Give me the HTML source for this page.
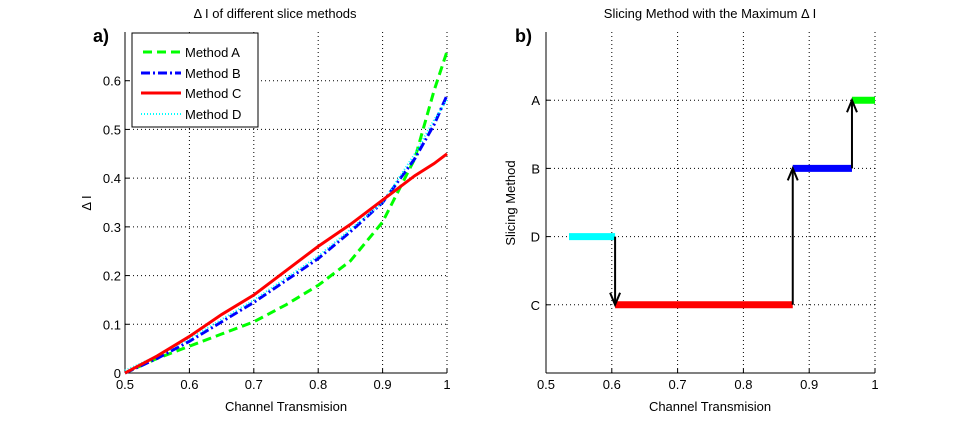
<!DOCTYPE html>
<html><head><meta charset="utf-8"><style>
body{margin:0;background:#fff;}
svg text{font-family:"Liberation Sans",sans-serif;}
</style></head><body>
<svg id="fig" width="963" height="420" viewBox="0 0 963 420" xmlns="http://www.w3.org/2000/svg"></svg>
<script>
const xs = [0.5,0.55,0.6,0.65,0.7,0.75,0.8,0.85,0.9,0.95,0.98,1.0];
const seriesA = [0,0.03,0.055,0.08,0.105,0.14,0.18,0.23,0.31,0.44,0.58,0.66];
const seriesB = [0,0.03,0.065,0.105,0.145,0.19,0.235,0.29,0.35,0.44,0.51,0.57];
const seriesC = [0,0.035,0.075,0.12,0.16,0.21,0.26,0.305,0.355,0.405,0.43,0.45];
const seriesD = [0.005,0.035,0.07,0.11,0.15,0.195,0.24,0.295,0.35,0.45,0.52,0.56];
const xTicks = [0.5,0.6,0.7,0.8,0.9,1];
const xTickLabels = ["0.5","0.6","0.7","0.8","0.9","1"];
const yTicksA = [0,0.1,0.2,0.3,0.4,0.5,0.6];
const yTickLabelsA = ["0","0.1","0.2","0.3","0.4","0.5","0.6"];
const catLabels = ["C","D","B","A"];
const catValues = [1,2,3,4];
const segStart = [0.535,0.605,0.875,0.965];
const segEnd = [0.605,0.875,0.965,1.0];
const segCat = [2,1,3,4];
const segColor = ["#00ffff","#ff0000","#0000ff","#00ff00"];

const NS="http://www.w3.org/2000/svg";
const svg=document.getElementById('fig');
function mk(tag,attrs,parent){const e=document.createElementNS(NS,tag);for(const k in attrs)e.setAttribute(k,attrs[k]);(parent||svg).appendChild(e);return e;}

// panel a scales
const ax={x0:125,x1:447,y0:373,yTop:32};
const xa=v=>ax.x0+(v-0.5)/0.5*(ax.x1-ax.x0);
const ya=v=>ax.y0-v/0.7*(ax.y0-ax.yTop);
// panel b scales
const bx={x0:546,x1:875,y0:373,yTop:32};
const xb=v=>bx.x0+(v-0.5)/0.5*(bx.x1-bx.x0);
const yb=v=>bx.y0-v/5*(bx.y0-bx.yTop);

// ---- panel a ----
const ga=mk('g',{});


xTicks.forEach((t,i)=>{
  if(i>0){const l=mk('line',{x1:xa(t),x2:xa(t),y1:ax.y0,y2:ax.yTop,stroke:'#000','stroke-dasharray':'1,3','stroke-width':1},ga);
  }
  mk('line',{x1:xa(t),x2:xa(t),y1:ax.y0,y2:ax.y0-4,stroke:'#000'},ga);
  const tx=mk('text',{x:xa(t),y:ax.y0+16,'font-size':13,'text-anchor':'middle'},ga);tx.textContent=xTickLabels[i];
  
});
yTicksA.forEach((t,i)=>{
  if(i>0){const l=mk('line',{x1:ax.x0,x2:ax.x1,y1:ya(t),y2:ya(t),stroke:'#000','stroke-dasharray':'1,3','stroke-width':1},ga);
  }
  mk('line',{x1:ax.x0,x2:ax.x0+4,y1:ya(t),y2:ya(t),stroke:'#000'},ga);
  const tx=mk('text',{x:ax.x0-4,y:ya(t)+5,'font-size':13,'text-anchor':'end'},ga);tx.textContent=yTickLabelsA[i];
  
});
mk('line',{x1:ax.x0,x2:ax.x0,y1:ax.y0,y2:ax.yTop,stroke:'#000'},ga);
mk('line',{x1:ax.x0,x2:ax.x1,y1:ax.y0,y2:ax.y0,stroke:'#000'},ga);
function pts(arr){return xs.map((x,i)=>xa(x)+','+ya(arr[i])).join(' ');}
const sa=mk('polyline',{points:pts(seriesA),fill:'none',stroke:'#00ff00','stroke-width':3,'stroke-dasharray':'9,5'},ga);

const sb=mk('polyline',{points:pts(seriesB),fill:'none',stroke:'#0000ff','stroke-width':3,'stroke-dasharray':'9,3,2,3'},ga);

const sd=mk('polyline',{points:pts(seriesD),fill:'none',stroke:'#00ffff','stroke-width':2,'stroke-dasharray':'1,2'},ga);

const sc=mk('polyline',{points:pts(seriesC),fill:'none',stroke:'#ff0000','stroke-width':3},ga);

</script>
<script>
// legend and labels (static)
</script>
<svg width="963" height="420" style="position:absolute;left:0;top:0" xmlns="http://www.w3.org/2000/svg">
  <text x="275" y="18" font-size="13" text-anchor="middle" font-family="Liberation Sans, sans-serif">Δ I of different slice methods</text>
  <text x="93" y="42" font-size="18" font-weight="bold" font-family="Liberation Sans, sans-serif">a)</text>
  <text x="286" y="411" font-size="13" text-anchor="middle" font-family="Liberation Sans, sans-serif">Channel Transmision</text>
  <text x="0" y="0" font-size="13" text-anchor="middle" transform="translate(91,203) rotate(-90)" font-family="Liberation Sans, sans-serif">Δ I</text>
  <g>
    <rect x="132" y="33" width="126" height="94" fill="#fff" stroke="#000"/>
    <line x1="143" x2="181" y1="52" y2="52" stroke="#00ff00" stroke-width="3" stroke-dasharray="9,5"/>
    <text x="185" y="57" font-size="13" font-family="Liberation Sans, sans-serif">Method A</text>
    <line x1="141" x2="181" y1="73" y2="73" stroke="#0000ff" stroke-width="3" stroke-dasharray="9,3,2,3"/>
    <text x="185" y="78" font-size="13" font-family="Liberation Sans, sans-serif">Method B</text>
    <line x1="141" x2="181" y1="93" y2="93" stroke="#ff0000" stroke-width="3"/>
    <text x="185" y="98" font-size="13" font-family="Liberation Sans, sans-serif">Method C</text>
    <line x1="141" x2="181" y1="114" y2="114" stroke="#00ffff" stroke-width="2" stroke-dasharray="1,2"/>
    <text x="185" y="119" font-size="13" font-family="Liberation Sans, sans-serif">Method D</text>
  </g>
  <text x="710" y="18" font-size="13" text-anchor="middle" font-family="Liberation Sans, sans-serif">Slicing Method with the Maximum Δ I</text>
  <text x="515" y="42" font-size="18" font-weight="bold" font-family="Liberation Sans, sans-serif">b)</text>
  <text x="710" y="411" font-size="13" text-anchor="middle" font-family="Liberation Sans, sans-serif">Channel Transmision</text>
  <text x="0" y="0" font-size="13" text-anchor="middle" transform="translate(515,203) rotate(-90)" font-family="Liberation Sans, sans-serif">Slicing Method</text>
</svg>
<script>
// ---- panel b ----
const gb=mk('g',{});


xTicks.forEach((t,i)=>{
  if(i>0){const l=mk('line',{x1:xb(t),x2:xb(t),y1:bx.y0,y2:bx.yTop,stroke:'#000','stroke-dasharray':'1,3'},gb);
  }
  mk('line',{x1:xb(t),x2:xb(t),y1:bx.y0,y2:bx.y0-4,stroke:'#000'},gb);
  const tx=mk('text',{x:xb(t),y:bx.y0+16,'font-size':13,'text-anchor':'middle'},gb);tx.textContent=xTickLabels[i];
  
});
catValues.forEach((c,i)=>{
  const l=mk('line',{x1:bx.x0,x2:bx.x1,y1:yb(c),y2:yb(c),stroke:'#000','stroke-dasharray':'1,3'},gb);
  
  mk('line',{x1:bx.x0,x2:bx.x0+4,y1:yb(c),y2:yb(c),stroke:'#000'},gb);
  const tx=mk('text',{x:bx.x0-6,y:yb(c)+5,'font-size':13,'text-anchor':'end'},gb);tx.textContent=catLabels[i];
  
});
mk('line',{x1:bx.x0,x2:bx.x0,y1:bx.y0,y2:bx.yTop,stroke:'#000'},gb);
mk('line',{x1:bx.x0,x2:bx.x1,y1:bx.y0,y2:bx.y0,stroke:'#000'},gb);
segStart.forEach((s,i)=>{
  const l=mk('line',{x1:xb(s),x2:xb(segEnd[i]),y1:yb(segCat[i]),y2:yb(segCat[i]),stroke:segColor[i],'stroke-width':7},gb);
  
  
});
for(let i=1;i<segStart.length;i++){
  const x=xb(segStart[i]);const y1=yb(segCat[i-1]);const y2=yb(segCat[i]);
  const dir=y2>y1?1:-1;
  const a=mk('g',{},gb);
  
  
  mk('line',{x1:x,x2:x,y1:y1,y2:y2,stroke:'#000','stroke-width':2},a);
  mk('polyline',{points:`${x-5},${y2-dir*12} ${x},${y2} ${x+5},${y2-dir*12}`,fill:'none',stroke:'#000','stroke-width':2},a);
}
</script>
</body></html>
